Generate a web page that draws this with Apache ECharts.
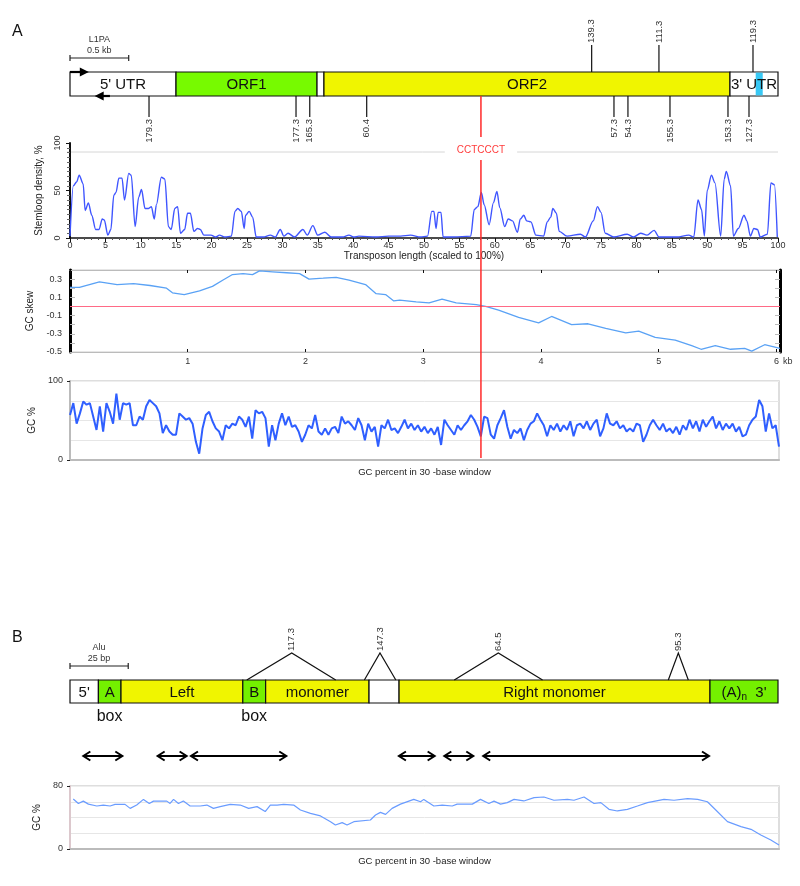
<!DOCTYPE html>
<html>
<head>
<meta charset="utf-8">
<title>L1PA / Alu</title>
<script src="https://cdn.jsdelivr.net/npm/echarts@6.0.0/dist/echarts.min.js"></script>
<style>
  html, body { margin: 0; padding: 0; background: #fff; }
  #main { width: 800px; height: 886px; }
</style>
</head>
<body>
<div id="main"></div>
<script>
// ---------- panel A : L1PA element, positions in kb ----------
const l1Length = 6.03
const l1SegNames = ["5' UTR", 'ORF1', '', 'ORF2', "3' UTR"]
const l1SegStart = [0, 0.903, 2.104, 2.163, 5.621]
const l1SegEnd = [0.903, 2.104, 2.163, 5.621, 6.03]
const l1Stripe = [[5.84, 5.9]]
const l1Promoters = [[0, 0.16, 1], [0.34, 0.21, 0]] // from, to, top(1) / bottom(0)
const l1Scale = [[0, 0.5]]
const l1ScaleText = ['L1PA', '0.5 kb']
const l1TopPos = [4.443, 5.016, 5.817]
const l1TopLabels = ['139.3', '111.3', '119.3']
const l1BottomPos = [0.673, 1.925, 2.042, 2.527, 4.633, 4.752, 5.11, 5.604, 5.783]
const l1BottomLabels = ['179.3', '177.3', '165.3', '60.4', '57.3', '54.3', '155.3', '153.3', '127.3']
const motifPos = [3.5]
const motifName = 'CCTCCCT'

// stem-loop density, x in % of transposon length
const stemloop = [
  [0, 2], [0.47, 55], [0.93, 59], [1.3, 66], [1.86, 57], [2.14, 29], [2.6, 37], [3.07, 24], [3.63, 9], [4.1, 9],
  [4.56, 20], [4.84, 19], [5.35, 3], [5.77, 9], [6.19, 45], [6.5, 48], [6.9, 63], [7.35, 63], [7.7, 40], [8.3, 68],
  [8.65, 66], [9.2, 12], [9.7, 43], [10.1, 51], [10.6, 31], [11.1, 31], [11.5, 33], [11.9, 20], [12.2, 35], [12.9, 64],
  [13.4, 62], [13.9, 12], [14.3, 9], [14.8, 31], [15.2, 33], [15.6, 5], [16.2, 9], [16.6, 26], [17, 26], [17.5, 7],
  [18, 10], [18.4, 9], [18.9, 3], [19.9, 3], [20.6, 1], [21.1, 3], [21.9, 1], [22.8, 2], [23.3, 28], [23.7, 31],
  [24.2, 28], [24.6, 10], [24.8, 24], [25.3, 28], [25.8, 22], [26.3, 1], [27.3, 1], [28.3, 3], [29, 1], [29.7, 9],
  [30.2, 2], [30.8, 5], [31.7, 1], [32.9, 9], [33.5, 3], [34.3, 13], [35, 3], [36, 6], [36.9, 1], [38.5, 1],
  [39.4, 3], [40.1, 1], [40.8, 2], [43.2, 1], [45, 2], [46.7, 2], [48.1, 3], [49.5, 1], [50.5, 2], [51.1, 28],
  [51.4, 28], [51.7, 10], [52, 27], [52.4, 27], [52.7, 1], [54.2, 1], [56.6, 2], [57.1, 30], [57.6, 33], [58.1, 48],
  [58.5, 35], [59.2, 14], [59.8, 37], [60.3, 49], [60.7, 32], [61.4, 12], [61.9, 20], [62.5, 18], [63.2, 6], [63.6, 20],
  [64.1, 24], [64.5, 18], [65.1, 17], [65.8, 3], [66.9, 2], [67.4, 17], [67.9, 22], [68.2, 31], [68.7, 26], [69.1, 7],
  [70.2, 2], [72.1, 4], [72.8, 1], [73.9, 18], [74.5, 33], [75, 27], [75.6, 5], [76.8, 1], [78.7, 4], [79.6, 1],
  [80.6, 5], [81.5, 3], [82.5, 8], [83.2, 1], [85.7, 1], [87.4, 3], [88.1, 1], [88.7, 40], [89.2, 30], [89.6, 2],
  [90, 50], [90.6, 66], [91.1, 58], [91.9, 2], [92.4, 62], [92.7, 70], [93.3, 55], [93.7, 2], [94.4, 10], [95.2, 24],
  [95.6, 18], [96.1, 2], [96.6, 10], [97.1, 9], [97.5, 1], [98.5, 4], [99, 58], [99.5, 56], [99.9, 1]
]

// GC skew along the element, x in kb
const gcSkew = [
  [0, 0.21], [0.08, 0.21], [0.25, 0.27], [0.4, 0.24], [0.54, 0.25], [0.68, 0.23], [0.82, 0.2], [0.87, 0.15],
  [0.97, 0.13], [1.1, 0.17], [1.21, 0.22], [1.3, 0.29], [1.38, 0.35], [1.47, 0.36], [1.55, 0.35], [1.61, 0.39],
  [1.72, 0.38], [1.84, 0.37], [1.95, 0.36], [2.03, 0.3], [2.15, 0.31], [2.26, 0.32], [2.37, 0.29], [2.51, 0.24],
  [2.6, 0.14], [2.68, 0.13], [2.75, 0.06], [2.8, 0.07], [2.94, 0.05], [3.05, 0.04], [3.16, 0.08], [3.28, 0.04],
  [3.45, 0.02], [3.53, 0], [3.64, -0.04], [3.81, -0.12], [3.98, -0.18], [4.09, -0.11], [4.26, -0.2], [4.4, -0.19],
  [4.55, -0.24], [4.72, -0.29], [4.83, -0.27], [4.97, -0.34], [5.14, -0.37], [5.28, -0.43], [5.36, -0.47],
  [5.48, -0.43], [5.61, -0.47], [5.73, -0.46], [5.79, -0.49], [5.9, -0.42], [6.03, -0.46]
]

// GC percent in 30-base window, evenly spaced along the element
const gcA = [
  57, 72, 46, 59, 74, 70, 72, 55, 38, 68, 36, 72, 61, 46, 84, 51, 72, 70, 72, 44,
  44, 55, 51, 68, 76, 72, 68, 59, 34, 44, 36, 32, 32, 59, 55, 51, 53, 46, 23, 8,
  40, 57, 61, 49, 40, 36, 25, 44, 40, 46, 44, 55, 51, 42, 55, 27, 63, 59, 61, 53,
  17, 44, 25, 46, 59, 44, 55, 42, 44, 36, 23, 32, 44, 40, 57, 36, 32, 40, 32, 40,
  42, 34, 55, 46, 49, 44, 38, 53, 44, 25, 46, 36, 42, 17, 44, 40, 51, 38, 40, 34,
  42, 51, 40, 46, 38, 44, 36, 42, 34, 40, 32, 42, 19, 51, 44, 38, 32, 44, 38, 44,
  49, 57, 51, 42, 30, 55, 53, 32, 27, 44, 53, 63, 42, 27, 38, 34, 40, 25, 38, 46,
  49, 59, 51, 44, 30, 44, 38, 46, 36, 44, 38, 49, 30, 44, 46, 40, 49, 38, 46, 51,
  30, 40, 59, 46, 44, 49, 40, 44, 36, 40, 36, 46, 44, 23, 32, 44, 51, 44, 38, 46,
  36, 40, 34, 42, 32, 44, 38, 51, 40, 49, 36, 51, 42, 49, 55, 40, 49, 38, 46, 40,
  46, 36, 42, 30, 32, 44, 51, 55, 76, 68, 36, 59, 40, 44, 17
]

// ---------- panel B : Alu element, positions in bp ----------
const aluLength = 304
const aluSegNames = ["5'", 'A', 'Left', 'B', 'monomer', '', 'Right monomer', "(A)n 3'"]
const aluSegStart = [0, 12.2, 21.9, 74.2, 84, 128.4, 141.3, 274.8]
const aluSegEnd = [12.2, 21.9, 74.2, 84, 128.4, 141.3, 274.8, 304]
const aluBoxPos = [17, 79.1]
const aluScale = [[0, 25]]
const aluScaleText = ['Alu', '25 bp']
const aluInsertions = [[75.9, 95.2, 114.1], [126.4, 133.1, 139.9], [165, 183.9, 202.9], [256.9, 261.2, 265.5]]
const aluInsLabels = ['117.3', '147.3', '64.5', '95.3']
const aluRanges = [[5.3, 22.9], [37.2, 50.5], [51.5, 93.3], [140.8, 157], [160.3, 173.6], [177, 274.8]]

const gcB = [
  [1.4, 63.5], [3.6, 57.8], [5.7, 60.8], [7.9, 57], [11.5, 54.6], [14.3, 55.8], [17.2, 54.6], [19.3, 56.7],
  [23.6, 56.7], [25.8, 51.6], [28.6, 55.8], [31.5, 63], [34, 57.8], [35.8, 60.8], [41.5, 60.8], [42.9, 57.8],
  [44.4, 63], [46.5, 57.8], [48.6, 61], [51.5, 54.6], [55.8, 54.6], [58.7, 55.8], [61.5, 51.6], [64.4, 53.8],
  [68.7, 56.7], [73, 55.8], [76.6, 51.6], [80.2, 53.8], [83.7, 47.5], [85.9, 55.8], [88.8, 55.8], [91.6, 56.7],
  [95.9, 55.8], [98.8, 49.5], [103.1, 45.3], [107.4, 42], [111.7, 34.7], [113.8, 30.5], [116.7, 33.5],
  [118.8, 30.5], [121.7, 34.7], [128.8, 36.8], [131, 43.2], [133.1, 46.5], [135.3, 44], [138.1, 51.6],
  [141.7, 57], [147.4, 63], [150.3, 60], [151.7, 63], [156, 54.6], [159.6, 55.8], [163.9, 54.6], [166, 57],
  [172.5, 57], [176, 63], [179.6, 57.8], [181.8, 60.8], [184.6, 57], [187.5, 58.9], [190.4, 63], [194.6, 61],
  [199, 65.2], [203.2, 66], [207.5, 61.9], [213.3, 63], [216.1, 61.9], [220.4, 66], [224.7, 57.8], [227.6, 58.9],
  [231.1, 50.4], [234.7, 48.3], [239, 50.4], [243.3, 54.6], [247.6, 58.9], [254.7, 63], [259, 61.9], [264.8, 64],
  [269.1, 63], [273.3, 60], [276.9, 49.5], [281.9, 34.7], [287.7, 28.4], [292, 25], [296.2, 17.8], [300.5, 11.4],
  [304, 5.1]
]

// ---------- styles ----------
const FONT = '"Liberation Sans", Arial, Helvetica, sans-serif'
const YELLOW = '#f0f500'
const GREEN = '#74f000'
const l1SegColors = ['#ffffff', '#77fa00', '#ffffff', YELLOW, '#ffffff']
const aluSegColors = ['#ffffff', GREEN, YELLOW, GREEN, YELLOW, '#ffffff', YELLOW, GREEN]

function pairs (a, b) {
  return a.map((v, i) => [v, b[i]])
}

function boxRenderer (colors) {
  return function (params, api) {
    const a = api.coord([api.value(0), 1])
    const b = api.coord([api.value(1), 0])
    return {
      type: 'rect',
      shape: { x: a[0], y: a[1], width: b[0] - a[0], height: b[1] - a[1] },
      style: { fill: colors[params.dataIndex], stroke: '#111', lineWidth: 1.2 }
    }
  }
}

function boxTextRenderer (names, size) {
  return function (params, api) {
    const a = api.coord([api.value(0), 1])
    const b = api.coord([api.value(1), 0])
    let text = names[params.dataIndex]
    if (text.indexOf('(A)n') === 0) text = '(A){sub|n}  ' + text.slice(5)
    return {
      type: 'text',
      style: {
        text: text,
        x: (a[0] + b[0]) / 2,
        y: (a[1] + b[1]) / 2 + 1,
        align: 'center',
        verticalAlign: 'middle',
        font: size + 'px ' + FONT,
        fill: '#111',
        rich: { sub: { fontSize: 10, padding: [9, 0, 0, 0], fontFamily: FONT } }
      }
    }
  }
}

function scaleRenderer (texts) {
  return function (params, api) {
    const a = api.coord([api.value(0), 1])
    const b = api.coord([api.value(1), 1])
    const y = a[1] - 14
    const mid = (a[0] + b[0]) / 2
    return {
      type: 'group',
      children: [
        { type: 'line', shape: { x1: a[0], y1: y, x2: b[0], y2: y }, style: { stroke: '#222', lineWidth: 1.2 } },
        { type: 'line', shape: { x1: a[0], y1: y - 3, x2: a[0], y2: y + 3 }, style: { stroke: '#222', lineWidth: 1.2 } },
        { type: 'line', shape: { x1: b[0], y1: y - 3, x2: b[0], y2: y + 3 }, style: { stroke: '#222', lineWidth: 1.2 } },
        { type: 'text', style: { text: texts[0], x: mid, y: y - 18, align: 'center', verticalAlign: 'middle', font: '9px ' + FONT, fill: '#333' } },
        { type: 'text', style: { text: texts[1], x: mid, y: y - 7, align: 'center', verticalAlign: 'middle', font: '9px ' + FONT, fill: '#333' } }
      ]
    }
  }
}

function rotatedText (text, x, y, align, color) {
  return {
    type: 'text',
    x: x,
    y: y,
    rotation: Math.PI / 2,
    style: { text: text, x: 0, y: 0, align: align, verticalAlign: 'middle', font: '9.5px ' + FONT, fill: color || '#333' }
  }
}

const chart = echarts.init(document.getElementById('main'))

const hiddenAxis = (gridIndex, min, max) => ({ gridIndex, type: 'value', min, max, show: false })
const axisName = { fontSize: 10, color: '#222', fontFamily: FONT }

chart.setOption({
  animation: false,
  backgroundColor: '#ffffff',
  textStyle: { fontFamily: FONT },
  title: [
    { text: 'A', left: 7, top: 19, textStyle: { fontSize: 16, fontWeight: 'normal', color: '#111', fontFamily: FONT } },
    { text: 'B', left: 7, top: 625, textStyle: { fontSize: 16, fontWeight: 'normal', color: '#111', fontFamily: FONT } }
  ],
  graphic: [
    { type: 'line', z: -1, shape: { x1: 67, y1: 152, x2: 778, y2: 152 }, style: { stroke: '#d6d6d6', lineWidth: 1 } }
  ],
  grid: [
    { left: 70, top: 72, width: 708, height: 24 },
    { left: 70, top: 143, width: 708, height: 95 },
    { left: 70, top: 270, width: 710, height: 82, show: true, borderColor: '#cccccc', borderWidth: 1 },
    { left: 70, top: 381, width: 709, height: 79, show: true, borderColor: '#d4d4d4', borderWidth: 1.5 },
    { left: 70, top: 680, width: 708, height: 23 },
    { left: 70, top: 786, width: 709, height: 63, show: true, borderColor: '#d4d4d4', borderWidth: 1.5 }
  ],
  xAxis: [
    hiddenAxis(0, 0, l1Length),
    {
      gridIndex: 1, type: 'value', min: 0, max: 100, interval: 5,
      axisLine: { lineStyle: { color: '#111', width: 1.5 } },
      axisTick: { length: 4, lineStyle: { color: '#111' } },
      minorTick: { show: true, splitNumber: 5, length: 2, lineStyle: { color: '#555' } },
      axisLabel: { fontSize: 9, color: '#333', margin: 3 },
      splitLine: { show: false },
      name: 'Transposon length (scaled to 100%)', nameLocation: 'middle', nameGap: 11, nameTextStyle: axisName
    },
    {
      gridIndex: 2, type: 'value', min: 0, max: l1Length, interval: 1,
      axisLine: { onZero: false, lineStyle: { color: '#bbbbbb' } },
      axisTick: { inside: true, length: 3, lineStyle: { color: '#111' } },
      axisLabel: { fontSize: 9, color: '#333', margin: 5, formatter: v => (Number.isInteger(v) && v > 0 ? String(v) : '') },
      splitLine: { show: false },
      name: 'kb', nameLocation: 'end', nameGap: 3,
      nameTextStyle: { fontSize: 9, color: '#333', verticalAlign: 'top', padding: [5, 0, 0, 0] }
    },
    {
      gridIndex: 2, type: 'value', position: 'top', min: 0, max: l1Length, interval: 1,
      axisLine: { onZero: false, lineStyle: { color: '#bbbbbb' } },
      axisTick: { inside: true, length: 3, lineStyle: { color: '#111' } },
      axisLabel: { show: false },
      splitLine: { show: false }
    },
    {
      gridIndex: 3, type: 'category', boundaryGap: false, data: gcA.map((v, i) => i),
      axisLine: { lineStyle: { color: '#bbbbbb', width: 2 } },
      axisTick: { show: false },
      axisLabel: { show: false },
      name: 'GC percent in 30 -base window', nameLocation: 'middle', nameGap: 7,
      nameTextStyle: { fontSize: 9.5, color: '#222' }
    },
    hiddenAxis(4, 0, aluLength),
    {
      gridIndex: 5, type: 'value', min: 0, max: aluLength,
      axisLine: { lineStyle: { color: '#bbbbbb', width: 2 } },
      axisTick: { show: false },
      axisLabel: { show: false },
      splitLine: { show: false },
      name: 'GC percent in 30 -base window', nameLocation: 'middle', nameGap: 7,
      nameTextStyle: { fontSize: 9.5, color: '#222' }
    }
  ],
  yAxis: [
    hiddenAxis(0, 0, 1),
    {
      gridIndex: 1, type: 'value', min: 0, max: 100, interval: 50,
      axisLine: { show: true, lineStyle: { color: '#111', width: 2 } },
      axisTick: { show: true, length: 4, lineStyle: { color: '#111' } },
      minorTick: { show: true, splitNumber: 10, length: 3, lineStyle: { color: '#666' } },
      axisLabel: { rotate: 90, fontSize: 9, color: '#333', margin: 8 },
      splitLine: { show: false },
      name: 'Stemloop density, %', nameLocation: 'middle', nameRotate: 90, nameGap: 26, nameTextStyle: axisName
    },
    {
      gridIndex: 2, type: 'value', min: -0.5, max: 0.4, interval: 0.2,
      axisLine: { show: true, onZero: false, lineStyle: { color: '#000', width: 3 } },
      axisTick: { show: true, inside: true, length: 5, lineStyle: { color: '#bbbbbb' } },
      minorTick: { show: true, splitNumber: 2, length: 5, lineStyle: { color: '#bbbbbb' } },
      axisLabel: { fontSize: 9, color: '#333', margin: 8, showMaxLabel: false, formatter: v => v.toFixed(1) },
      splitLine: { show: false },
      name: 'GC skew', nameLocation: 'middle', nameRotate: 90, nameGap: 26, nameTextStyle: axisName
    },
    {
      gridIndex: 2, type: 'value', position: 'right', min: -0.5, max: 0.4, interval: 0.2,
      axisLine: { show: true, onZero: false, lineStyle: { color: '#000', width: 3 } },
      axisTick: { show: true, inside: true, length: 5, lineStyle: { color: '#bbbbbb' } },
      minorTick: { show: true, splitNumber: 2, length: 5, lineStyle: { color: '#bbbbbb' } },
      axisLabel: { show: false },
      splitLine: { show: false }
    },
    {
      gridIndex: 3, type: 'value', min: 0, max: 100, interval: 100,
      axisLine: { show: true, lineStyle: { color: '#bbbbbb', width: 2 } },
      axisTick: { show: true, length: 3, lineStyle: { color: '#222' } },
      axisLabel: { fontSize: 9, color: '#333', margin: 7 },
      splitLine: { show: true, lineStyle: { color: '#eeeeee' } },
      minorTick: { show: false, splitNumber: 4 },
      minorSplitLine: { show: true, lineStyle: { color: '#e6e6e6' } },
      name: 'GC %', nameLocation: 'middle', nameRotate: 90, nameGap: 26, nameTextStyle: axisName
    },
    hiddenAxis(4, 0, 1),
    {
      gridIndex: 5, type: 'value', min: 0, max: 80, interval: 80,
      axisLine: { show: true, lineStyle: { color: '#dcc8cd', width: 2 } },
      axisTick: { show: true, length: 3, lineStyle: { color: '#222' } },
      axisLabel: { fontSize: 9, color: '#333', margin: 7 },
      splitLine: { show: true, lineStyle: { color: '#eeeeee' } },
      minorTick: { show: false, splitNumber: 4 },
      minorSplitLine: { show: true, lineStyle: { color: '#e6e6e6' } },
      name: 'GC %', nameLocation: 'middle', nameRotate: 90, nameGap: 26, nameTextStyle: axisName
    }
  ],
  series: [
    // ----- panel A diagram -----
    { type: 'custom', xAxisIndex: 0, yAxisIndex: 0, z: 2, data: pairs(l1SegStart, l1SegEnd), renderItem: boxRenderer(l1SegColors) },
    {
      type: 'custom', xAxisIndex: 0, yAxisIndex: 0, z: 3, data: l1Stripe,
      renderItem (params, api) {
        const a = api.coord([api.value(0), 1])
        const b = api.coord([api.value(1), 0])
        return { type: 'rect', shape: { x: a[0], y: a[1] + 0.6, width: b[0] - a[0], height: b[1] - a[1] - 1.2 }, style: { fill: '#38c8f4' } }
      }
    },
    { type: 'custom', xAxisIndex: 0, yAxisIndex: 0, z: 4, data: pairs(l1SegStart, l1SegEnd), renderItem: boxTextRenderer(l1SegNames, 15) },
    {
      type: 'custom', xAxisIndex: 0, yAxisIndex: 0, z: 5, data: l1Promoters,
      renderItem (params, api) {
        const a = api.coord([api.value(0), api.value(2)])
        const b = api.coord([api.value(1), api.value(2)])
        const d = b[0] > a[0] ? 1 : -1
        return {
          type: 'group',
          children: [
            { type: 'line', shape: { x1: a[0], y1: a[1], x2: b[0] - d * 6, y2: b[1] }, style: { stroke: '#000', lineWidth: 2.2 } },
            { type: 'polygon', shape: { points: [[b[0], b[1]], [b[0] - d * 9, b[1] - 4.5], [b[0] - d * 9, b[1] + 4.5]] }, style: { fill: '#000' } }
          ]
        }
      }
    },
    { type: 'custom', xAxisIndex: 0, yAxisIndex: 0, data: l1Scale, renderItem: scaleRenderer(l1ScaleText) },
    {
      type: 'custom', xAxisIndex: 0, yAxisIndex: 0, data: l1TopPos.map(v => [v, 1]),
      renderItem (params, api) {
        const p = api.coord([api.value(0), 1])
        return {
          type: 'group',
          children: [
            { type: 'line', shape: { x1: p[0], y1: p[1], x2: p[0], y2: p[1] - 27 }, style: { stroke: '#111', lineWidth: 1.2 } },
            rotatedText(l1TopLabels[params.dataIndex], p[0], p[1] - 29, 'left')
          ]
        }
      }
    },
    {
      type: 'custom', xAxisIndex: 0, yAxisIndex: 0, data: l1BottomPos.map(v => [v, 0]),
      renderItem (params, api) {
        const p = api.coord([api.value(0), 0])
        return {
          type: 'group',
          children: [
            { type: 'line', shape: { x1: p[0], y1: p[1], x2: p[0], y2: p[1] + 21 }, style: { stroke: '#111', lineWidth: 1.2 } },
            rotatedText(l1BottomLabels[params.dataIndex], p[0], p[1] + 23, 'right')
          ]
        }
      }
    },
    {
      type: 'custom', xAxisIndex: 0, yAxisIndex: 0, z: 6, data: motifPos.map(v => [v, 0]),
      renderItem (params, api) {
        const p = api.coord([api.value(0), 0])
        return {
          type: 'group',
          children: [
            { type: 'line', shape: { x1: p[0], y1: p[1], x2: p[0], y2: p[1] + 41 }, style: { stroke: '#ff2a2a', lineWidth: 1.5 } },
            {
              type: 'text',
              style: {
                text: motifName, x: p[0], y: p[1] + 54, align: 'center', verticalAlign: 'middle',
                font: '10px ' + FONT, fill: '#ff3b3b', backgroundColor: '#ffffff', padding: [2, 12]
              }
            },
            { type: 'line', shape: { x1: p[0], y1: p[1] + 64, x2: p[0], y2: p[1] + 362 }, style: { stroke: '#ff2a2a', lineWidth: 1.5 } }
          ]
        }
      }
    },
    // ----- stem-loop density -----
    {
      type: 'line', xAxisIndex: 1, yAxisIndex: 1, data: stemloop, symbol: 'none',
      smooth: 0.3, smoothMonotone: 'x', lineStyle: { color: '#3f55ff', width: 1.4 }
    },
    // ----- GC skew -----
    {
      type: 'line', xAxisIndex: 2, yAxisIndex: 2, data: gcSkew, symbol: 'none',
      lineStyle: { color: '#5aa2f5', width: 1.3 },
      markLine: {
        silent: true, symbol: 'none', label: { show: false },
        lineStyle: { color: '#ff6a86', width: 1.2, type: 'solid' },
        data: [{ yAxis: 0 }]
      }
    },
    // ----- GC percent, panel A -----
    {
      type: 'line', xAxisIndex: 4, yAxisIndex: 4, data: gcA, symbol: 'none',
      lineStyle: { color: '#2f5fff', width: 2 }
    },
    // ----- panel B diagram -----
    { type: 'custom', xAxisIndex: 5, yAxisIndex: 5, z: 2, data: pairs(aluSegStart, aluSegEnd), renderItem: boxRenderer(aluSegColors) },
    { type: 'custom', xAxisIndex: 5, yAxisIndex: 5, z: 4, data: pairs(aluSegStart, aluSegEnd), renderItem: boxTextRenderer(aluSegNames, 15) },
    {
      type: 'custom', xAxisIndex: 5, yAxisIndex: 5, data: aluBoxPos.map(v => [v, 0]),
      renderItem (params, api) {
        const p = api.coord([api.value(0), 0])
        return { type: 'text', style: { text: 'box', x: p[0], y: p[1] + 14, align: 'center', verticalAlign: 'middle', font: '16px ' + FONT, fill: '#111' } }
      }
    },
    { type: 'custom', xAxisIndex: 5, yAxisIndex: 5, data: aluScale, renderItem: scaleRenderer(aluScaleText) },
    {
      type: 'custom', xAxisIndex: 5, yAxisIndex: 5, data: aluInsertions,
      renderItem (params, api) {
        const l = api.coord([api.value(0), 1])
        const m = api.coord([api.value(1), 1])
        const r = api.coord([api.value(2), 1])
        const top = l[1] - 27
        return {
          type: 'group',
          children: [
            { type: 'polyline', shape: { points: [[l[0], l[1]], [m[0], top], [r[0], r[1]]] }, style: { stroke: '#111', lineWidth: 1.2, fill: null } },
            rotatedText(aluInsLabels[params.dataIndex], m[0], top - 2, 'left')
          ]
        }
      }
    },
    {
      type: 'custom', xAxisIndex: 5, yAxisIndex: 5, data: aluRanges,
      renderItem (params, api) {
        const a = api.coord([api.value(0), 0])
        const b = api.coord([api.value(1), 0])
        const y = a[1] + 53
        const st = { stroke: '#000', lineWidth: 2, fill: null }
        return {
          type: 'group',
          children: [
            { type: 'line', shape: { x1: a[0] + 1, y1: y, x2: b[0] - 1, y2: y }, style: st },
            { type: 'polyline', shape: { points: [[a[0] + 8, y - 4.5], [a[0] + 1, y], [a[0] + 8, y + 4.5]] }, style: st },
            { type: 'polyline', shape: { points: [[b[0] - 8, y - 4.5], [b[0] - 1, y], [b[0] - 8, y + 4.5]] }, style: st }
          ]
        }
      }
    },
    // ----- GC percent, panel B -----
    {
      type: 'line', xAxisIndex: 6, yAxisIndex: 6, data: gcB, symbol: 'none',
      lineStyle: { color: '#6a9cff', width: 1.2 }
    }
  ]
})
</script>
</body>
</html>
